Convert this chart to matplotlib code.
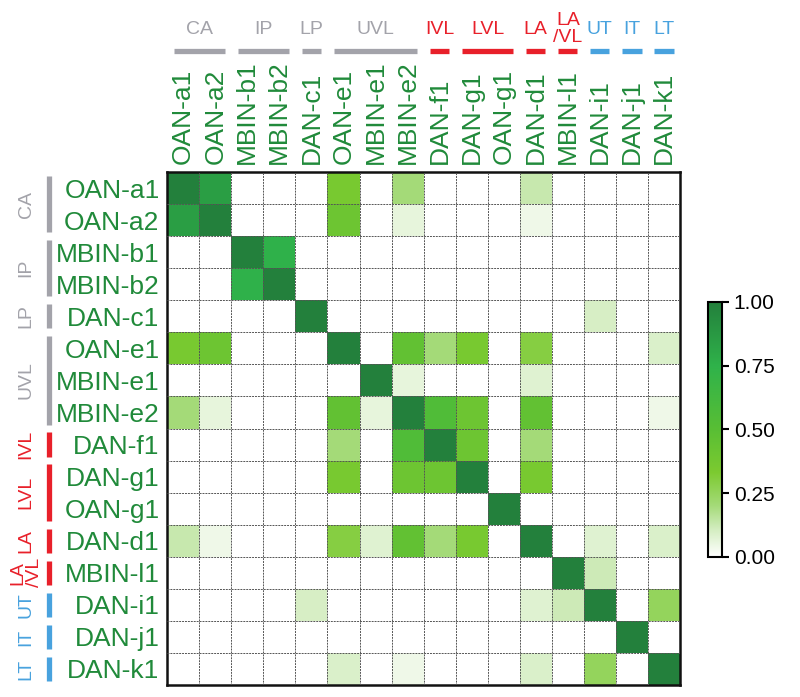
import numpy as np
import matplotlib
matplotlib.use("Agg")
import matplotlib.pyplot as plt
from matplotlib.colors import LinearSegmentedColormap

plt.rcParams['font.family'] = ['Liberation Sans', 'DejaVu Sans']

neurons = ["OAN-a1", "OAN-a2", "MBIN-b1", "MBIN-b2", "DAN-c1", "OAN-e1", "MBIN-e1",
           "MBIN-e2", "DAN-f1", "DAN-g1", "OAN-g1", "DAN-d1", "MBIN-l1", "DAN-i1",
           "DAN-j1", "DAN-k1"]

# group name, first index, last index, colour key
groups = ["CA", "IP", "LP", "UVL", "IVL", "LVL", "LA", "LA\n/VL", "UT", "IT", "LT"]
group_start = [0, 2, 4, 5, 8, 9, 11, 12, 13, 14, 15]
group_end = [1, 3, 4, 7, 8, 10, 11, 12, 13, 14, 15]
group_kind = ["gray", "gray", "gray", "gray", "red", "red", "red", "red", "blue", "blue", "blue"]

# off-diagonal similarity values (row, col, value); matrix is symmetric, diagonal = 1
pairs_i = [0, 0, 0, 0, 1, 1, 1, 2, 4, 5, 5, 5, 5, 5, 6, 6, 7, 7, 7, 7, 8, 8, 9, 11, 11, 12, 13]
pairs_j = [1, 5, 7, 11, 5, 7, 11, 3, 13, 7, 8, 9, 11, 15, 7, 11, 8, 9, 11, 15, 9, 11, 11, 13, 15, 13, 15]
pairs_v = [0.85, 0.35, 0.20, 0.13, 0.40, 0.06, 0.04, 0.75, 0.10, 0.45, 0.20, 0.35, 0.30, 0.09,
           0.06, 0.08, 0.55, 0.40, 0.45, 0.04, 0.40, 0.20, 0.35, 0.08, 0.09, 0.12, 0.25]

n = len(neurons)
M = np.eye(n)
for i, j, v in zip(pairs_i, pairs_j, pairs_v):
    M[i, j] = v
    M[j, i] = v

cmap = LinearSegmentedColormap.from_list("grn", [
    (0.0, "#ffffff"), (0.1, "#d6eec4"), (0.2, "#a4da78"), (0.33, "#7cca30"),
    (0.5, "#58be34"), (0.75, "#2fb24a"), (1.0, "#23803c")])

colors = {"gray": "#a3a3aa", "red": "#e8202a", "blue": "#48a2de"}
label_green = "#208a3a"

fig = plt.figure(figsize=(8.0, 6.97), dpi=100)
ax = fig.add_axes([0.209, 0.0172, 0.641, 0.736])
mesh = ax.pcolormesh(np.arange(n + 1), np.arange(n + 1), M, cmap=cmap, vmin=0, vmax=1)
ax.set_xlim(0, n)
ax.set_ylim(n, 0)

for k in range(1, n):
    ax.axhline(k, color="#555555", lw=0.7, ls=(0, (2, 1)), zorder=3)
    ax.axvline(k, color="#555555", lw=0.7, ls=(0, (2, 1)), zorder=3)
for s in ax.spines.values():
    s.set_linewidth(1.8)
    s.set_color("#111111")

ax.set_xticks(np.arange(n) + 0.5)
ax.set_yticks(np.arange(n) + 0.5)
ax.set_xticklabels(neurons, rotation=90, fontsize=19, color=label_green)
ax.set_yticklabels(neurons, fontsize=19, color=label_green)
ax.xaxis.tick_top()
ax.tick_params(length=0, pad=5.5)

# group bars and labels
for name, a, b, kind in zip(groups, group_start, group_end, group_kind):
    c = colors[kind]
    ins = 0.2
    ax.plot([a + ins, b + 1 - ins], [-3.78, -3.78], color=c, lw=3.8,
            solid_capstyle="butt", clip_on=False)
    ax.text((a + b + 1) / 2, -4.45, name, color=c, fontsize=14, ha="center",
            va="center", linespacing=1.0)
    ins2 = 0.12
    ax.plot([-3.69, -3.69], [a + ins2, b + 1 - ins2], color=c, lw=3.8,
            solid_capstyle="butt", clip_on=False)
    ax.text(-4.4, (a + b + 1) / 2, name, color=c, fontsize=14, ha="center",
            va="center", rotation=90, linespacing=1.0)

cax = fig.add_axes([0.885, 0.2009, 0.0175, 0.366])
cb = fig.colorbar(mesh, cax=cax, ticks=[0, 0.25, 0.5, 0.75, 1.0])
cb.ax.set_yticklabels(["0.00", "0.25", "0.50", "0.75", "1.00"])
cb.ax.tick_params(labelsize=15, length=5, width=1.5)
cb.outline.set_linewidth(1.5)

fig.savefig("out.png", dpi=100)
